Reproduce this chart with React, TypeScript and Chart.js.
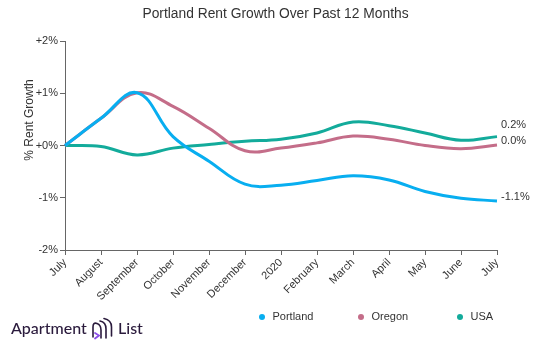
import React, { useEffect, useRef } from "react";
import { Chart, registerables } from "chart.js";

Chart.register(...registerables);

const months = ["July", "August", "September", "October", "November", "December", "2020", "February", "March", "April", "May", "June", "July"];
const portland = [0, 0.52, 1.01, 0.17, -0.3, -0.74, -0.76, -0.67, -0.58, -0.66, -0.88, -1.01, -1.06];
const oregon = [0, 0.52, 1.01, 0.75, 0.33, -0.1, -0.05, 0.05, 0.18, 0.12, 0.0, -0.06, 0.01];
const usa = [0, -0.02, -0.18, -0.05, 0.02, 0.08, 0.12, 0.24, 0.45, 0.38, 0.24, 0.1, 0.17];
const seriesNames = ["Portland", "Oregon", "USA"];
const endLabels = ["-1.1%", "0.0%", "0.2%"];
const colors = ["#08aef0", "#c46d89", "#13ab9b"];
const yTicks = [-2, -1, 0, 1, 2];

const FONT = "'Liberation Sans', Arial, sans-serif";

const overlay = {
  id: "overlay",
  afterDraw(chart: any) {
    const ctx = chart.ctx;
    ctx.save();
    // Title
    ctx.fillStyle = "#333";
    ctx.font = `13.8px ${FONT}`;
    ctx.textAlign = "center";
    ctx.textBaseline = "middle";
    ctx.fillText("Portland Rent Growth Over Past 12 Months", 275.5, 14);

    // Y axis title
    ctx.save();
    ctx.translate(30, 120);
    ctx.rotate(-Math.PI / 2);
    ctx.font = `12px ${FONT}`;
    ctx.fillText("% Rent Growth", 0, 0);
    ctx.restore();

    // End labels with collision avoidance
    const items: { y: number; text: string }[] = [];
    let lastX = 0;
    chart.data.datasets.forEach((ds: any, i: number) => {
      const meta = chart.getDatasetMeta(i);
      const pt = meta.data[meta.data.length - 1];
      lastX = pt.x;
      items.push({ y: pt.y - 4, text: endLabels[i] });
    });
    items.sort((a, b) => b.y - a.y);
    for (let i = 1; i < items.length; i++) {
      if (items[i - 1].y - items[i].y < 16) items[i].y = items[i - 1].y - 16;
    }
    ctx.font = `11px ${FONT}`;
    ctx.textAlign = "left";
    ctx.fillStyle = "#333";
    items.forEach((it) => ctx.fillText(it.text, lastX + 4, it.y));

    // Legend
    const legendX = [262, 361, 460];
    seriesNames.forEach((name, i) => {
      ctx.fillStyle = colors[i];
      ctx.beginPath();
      ctx.arc(legendX[i], 317, 3, 0, Math.PI * 2);
      ctx.fill();
      ctx.fillStyle = "#333";
      ctx.font = `11px ${FONT}`;
      ctx.textAlign = "left";
      ctx.textBaseline = "middle";
      ctx.fillText(name, legendX[i] + 10.5, 317);
    });

    // Logo
    ctx.fillStyle = "#2a1a3c";
    ctx.font = `500 16px Lato, ${FONT}`;
    ctx.textAlign = "left";
    ctx.textBaseline = "alphabetic";
    ctx.fillText("Apartment", 11, 334);
    ctx.fillText("List", 118, 334);
    // icon
    ctx.strokeStyle = "#2a1a3c";
    ctx.lineWidth = 1.6;
    ctx.lineCap = "round";
    ctx.beginPath();
    ctx.moveTo(93, 337);
    ctx.lineTo(93, 327);
    ctx.quadraticCurveTo(93, 322, 97, 323.5);
    ctx.quadraticCurveTo(101, 325, 101, 330);
    ctx.lineTo(101, 338);
    ctx.stroke();
    ctx.beginPath();
    ctx.moveTo(100, 321);
    ctx.quadraticCurveTo(106, 322, 106, 329);
    ctx.lineTo(106, 338);
    ctx.stroke();
    ctx.beginPath();
    ctx.moveTo(104, 318.5);
    ctx.quadraticCurveTo(111.5, 320, 111.5, 327);
    ctx.lineTo(111.5, 336);
    ctx.stroke();
    ctx.strokeStyle = "#8b4de8";
    ctx.lineWidth = 1.8;
    ctx.beginPath();
    ctx.moveTo(95, 333);
    ctx.lineTo(99, 335.5);
    ctx.lineTo(95, 338.5);
    ctx.stroke();
    ctx.restore();
  },
};

export default function App() {
  const ref = useRef<HTMLCanvasElement | null>(null);
  useEffect(() => {
    document.body.style.margin = "0";
    const canvas = ref.current!;
    const chart = new Chart(canvas, {
      type: "line",
      data: {
        labels: months,
        datasets: [portland, oregon, usa].map((d, i) => ({
          label: seriesNames[i],
          data: d,
          borderColor: colors[i],
          backgroundColor: colors[i],
          borderWidth: 3,
          pointRadius: 0,
          tension: 0.4,
          fill: false,
        })),
      },
      options: {
        responsive: false,
        animation: false,
        events: [],
        layout: { padding: { left: 0, right: 36, top: 41, bottom: 38 } },
        plugins: { legend: { display: false }, title: { display: false }, tooltip: { enabled: false } },
        scales: {
          x: {
            type: "category",
            offset: false,
            grid: { display: true, drawOnChartArea: false, drawTicks: true, tickLength: 5, color: "#666" },
            border: { color: "#666", width: 1 },
            ticks: {
              minRotation: 45,
              maxRotation: 45,
              autoSkip: false,
              padding: 1,
              color: "#333",
              font: { family: FONT, size: 11 },
            },
            afterFit: (s: any) => {
              s.height = 55;
            },
          },
          y: {
            min: -2,
            max: 2,
            afterBuildTicks: (s: any) => {
              s.ticks = yTicks.map((v) => ({ value: v }));
            },
            grid: { display: true, drawOnChartArea: false, drawTicks: true, tickLength: 5, color: "#666" },
            border: { color: "#666", width: 1 },
            ticks: {
              padding: 2,
              color: "#333",
              font: { family: FONT, size: 11 },
              callback: (v: any) => (Number(v) >= 0 ? "+" : "") + v + "%",
            },
            afterFit: (s: any) => {
              s.width = 65;
            },
          },
        },
      },
      plugins: [overlay],
    });
    return () => chart.destroy();
  }, []);
  return (
    <div style={{ position: "absolute", left: 0, top: 0, width: 533, height: 343, background: "#fff" }}>
      <canvas ref={ref} width={533} height={343} style={{ display: "block" }} />
    </div>
  );
}
